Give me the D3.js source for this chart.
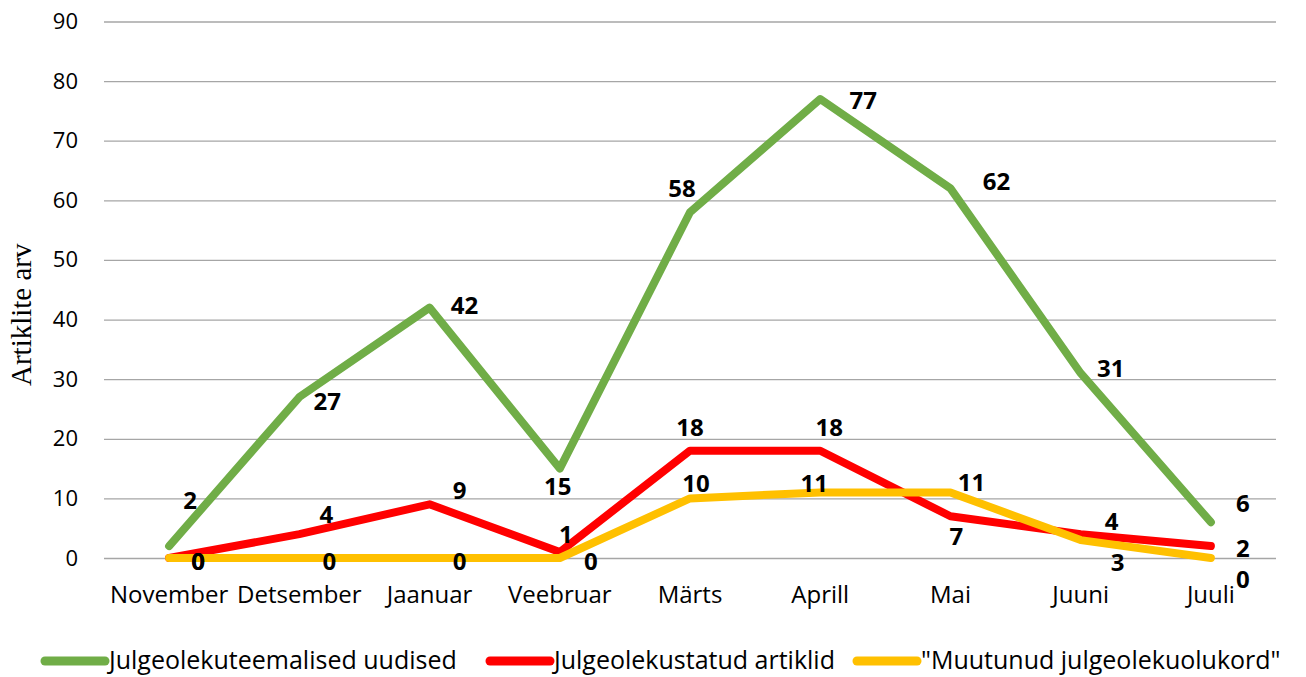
<!DOCTYPE html>
<html>
<head>
<meta charset="utf-8">
<script src="https://cdn.jsdelivr.net/npm/d3@7"></script>
<style>
  body { margin: 0; background: #fff; }
  svg { display: block; }
</style>
</head>
<body>
<div id="wrapper"></div>
<script>
// data
const months = ["November", "Detsember", "Jaanuar", "Veebruar", "Märts", "Aprill", "Mai", "Juuni", "Juuli"];
const uudised = [2, 27, 42, 15, 58, 77, 62, 31, 6];
const artiklid = [0, 4, 9, 1, 18, 18, 7, 4, 2];
const olukord = [0, 0, 0, 0, 10, 11, 11, 3, 0];
const seriesNames = ["Julgeolekuteemalised uudised", "Julgeolekustatud artiklid", "\"Muutunud julgeolekuolukord\""];
const yTicks = [0, 10, 20, 30, 40, 50, 60, 70, 80, 90];

// where each value label sits relative to its point (px)
const uudisedLabelPos = [[21, -47], [28, 3], [35, -3], [-2, 17], [-8, -25], [43, 1], [46, -8], [30, -6], [32, -20]];
const artiklidLabelPos = [[29, 2], [27, -21], [30, -15], [6, -19], [0, -24], [9, -24], [6, 19], [31, -14], [32, 1]];
const olukordLabelPos = [[29, 2], [30, 2], [30, 2], [31, 2], [6, -16], [-6, -10], [21, -11], [37, 21], [32, 20]];

function drawLineChart() {
  //1. dimensions
  let dimensions = {
    width: 1306,
    height: 677,
    margin: { top: 21.5, right: 30, bottom: 119, left: 104 },
  };
  dimensions.boundedWidth = dimensions.width - dimensions.margin.left - dimensions.margin.right;
  dimensions.boundedHeight = dimensions.height - dimensions.margin.top - dimensions.margin.bottom;

  //2. canvas
  const wrapper = d3.select("#wrapper")
    .append("svg")
    .attr("width", dimensions.width)
    .attr("height", dimensions.height);

  const bounds = wrapper.append("g")
    .attr("transform", `translate(${dimensions.margin.left},${dimensions.margin.top})`);

  //3. scales
  const xScale = d3.scaleBand()
    .domain(months)
    .range([0, dimensions.boundedWidth]);
  const xPos = (i) => xScale(months[i]) + xScale.bandwidth() / 2;

  const yScale = d3.scaleLinear()
    .domain([0, 90])
    .range([dimensions.boundedHeight, 0]);

  //4. gridlines + y axis
  const yAxis = bounds.append("g")
    .call(d3.axisLeft(yScale).tickValues(yTicks).tickSize(-dimensions.boundedWidth).tickPadding(26));
  yAxis.select(".domain").remove();
  yAxis.selectAll(".tick line").attr("stroke", "#a6a6a6").attr("stroke-width", 1.3);
  yAxis.selectAll(".tick text")
    .attr("fill", "#000")
    .style("font-family", "'Open Sans', sans-serif")
    .style("font-size", "22px");

  // x axis labels
  const xAxis = bounds.append("g")
    .attr("transform", `translate(0,${dimensions.boundedHeight})`)
    .call(d3.axisBottom(xScale).tickSize(0).tickPadding(28));
  xAxis.select(".domain").remove();
  xAxis.selectAll(".tick text")
    .attr("fill", "#000")
    .style("font-family", "'Open Sans', sans-serif")
    .style("font-size", "24px");

  // y axis title
  wrapper.append("text")
    .attr("transform", `translate(31,${dimensions.margin.top + dimensions.boundedHeight / 2 + 25}) rotate(-90)`)
    .attr("text-anchor", "middle")
    .style("font-family", "'Liberation Serif', 'Times New Roman', serif")
    .style("font-size", "29px")
    .text("Artiklite arv");

  //5. lines
  const series = [
    { name: seriesNames[0], values: uudised, color: "#70ad47", labels: uudisedLabelPos },
    { name: seriesNames[1], values: artiklid, color: "#ff0000", labels: artiklidLabelPos },
    { name: seriesNames[2], values: olukord, color: "#ffc000", labels: olukordLabelPos },
  ];

  const lineGenerator = d3.line()
    .x((d, i) => xPos(i))
    .y((d) => yScale(d));

  series.forEach((s) => {
    bounds.append("path")
      .attr("d", lineGenerator(s.values))
      .attr("fill", "none")
      .attr("stroke", s.color)
      .attr("stroke-width", 8)
      .attr("stroke-linecap", "round")
      .attr("stroke-linejoin", "round");
  });

  //6. value labels
  series.forEach((s) => {
    bounds.append("g")
      .selectAll("text")
      .data(s.values)
      .enter()
      .append("text")
      .attr("x", (d, i) => xPos(i) + s.labels[i][0])
      .attr("y", (d, i) => yScale(d) + s.labels[i][1])
      .attr("text-anchor", "middle")
      .attr("dominant-baseline", "central")
      .style("font-family", "'Open Sans', sans-serif")
      .style("font-weight", "bold")
      .style("font-size", "24px")
      .text((d) => d);
  });

  //7. legend
  const legendX = [45, 490, 857];
  const legend = wrapper.append("g")
    .selectAll("g")
    .data(series)
    .enter()
    .append("g")
    .attr("transform", (d, i) => `translate(${legendX[i]},661)`);

  legend.append("line")
    .attr("x1", 0)
    .attr("x2", 60)
    .attr("stroke", (d) => d.color)
    .attr("stroke-width", 9)
    .attr("stroke-linecap", "round");

  legend.append("text")
    .attr("x", 64)
    .attr("y", 8)
    .style("font-family", "'Open Sans', sans-serif")
    .style("font-size", "25px")
    .text((d) => d.name);
}

drawLineChart();
</script>
</body>
</html>
